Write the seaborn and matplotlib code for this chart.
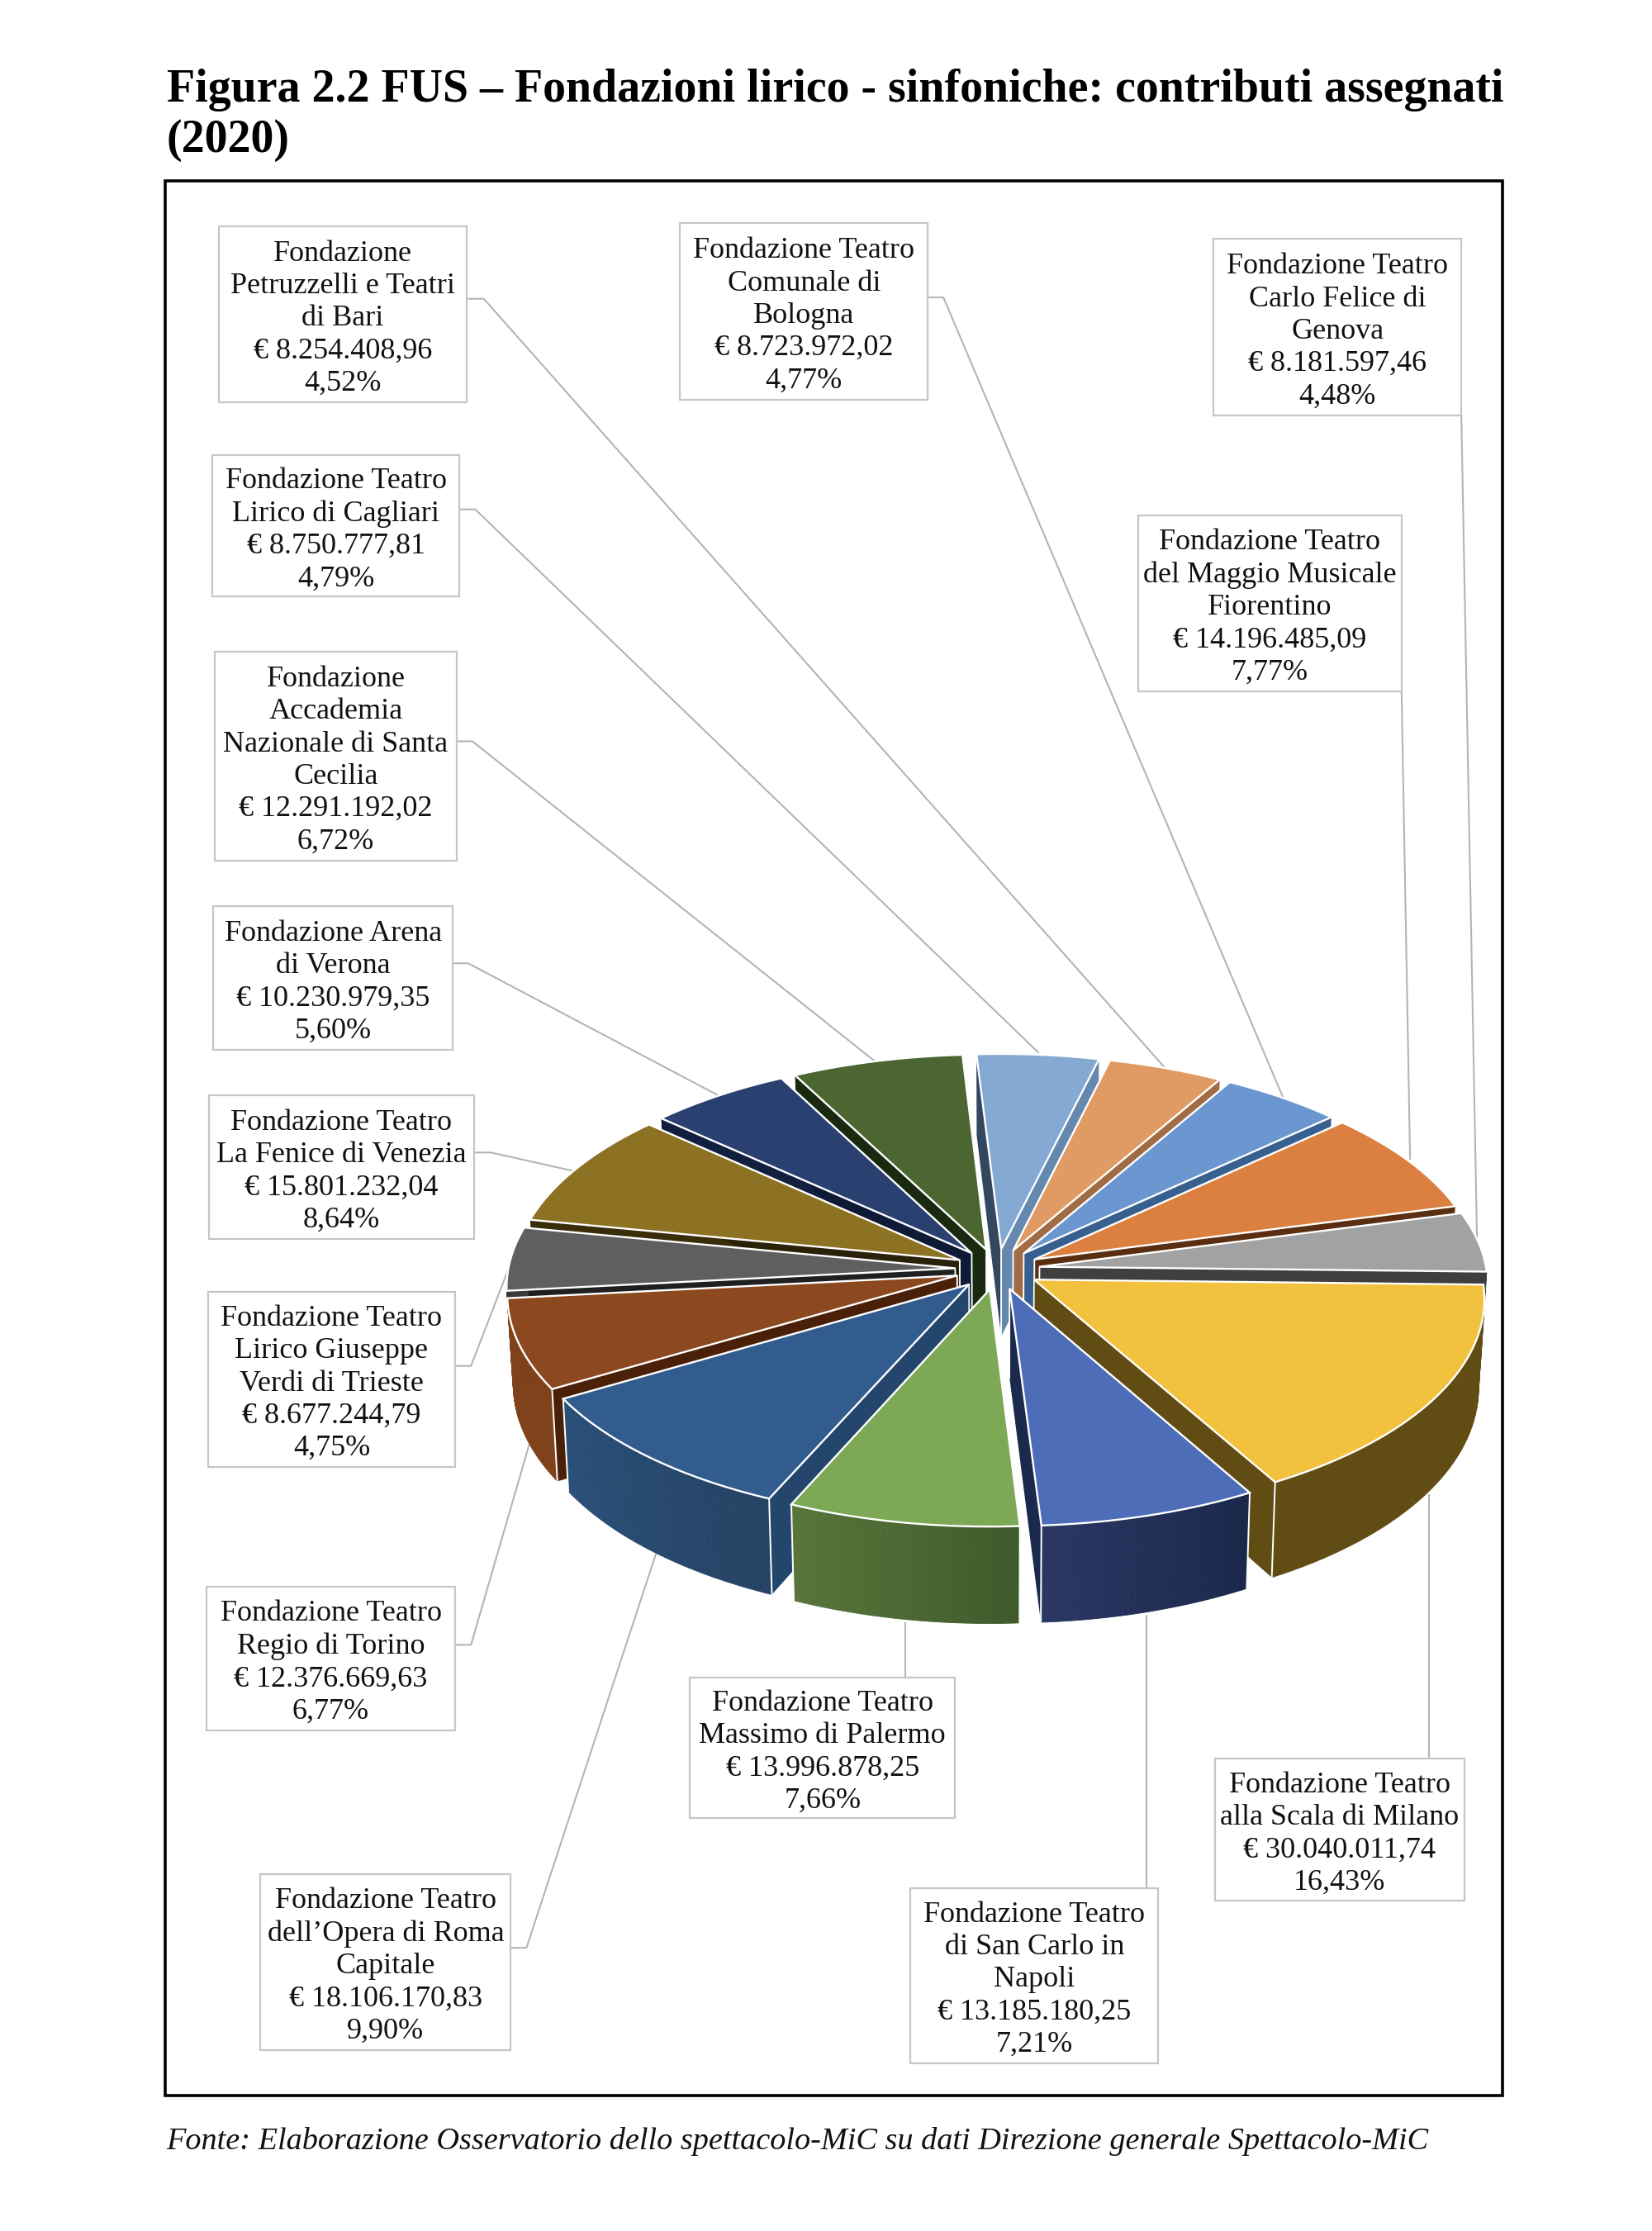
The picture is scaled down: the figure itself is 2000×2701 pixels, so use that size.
import numpy as np
import matplotlib
matplotlib.use("Agg")
import matplotlib.pyplot as plt
from matplotlib.patches import Rectangle
import seaborn as sns

# Data
names = [
    "Fondazione Teatro\nalla Scala di Milano",
    "Fondazione Teatro\ndi San Carlo in\nNapoli",
    "Fondazione Teatro\nMassimo di Palermo",
    "Fondazione Teatro\ndell’Opera di Roma\nCapitale",
    "Fondazione Teatro\nRegio di Torino",
    "Fondazione Teatro\nLirico Giuseppe\nVerdi di Trieste",
    "Fondazione Teatro\nLa Fenice di Venezia",
    "Fondazione Arena\ndi Verona",
    "Fondazione\nAccademia\nNazionale di Santa\nCecilia",
    "Fondazione Teatro\nLirico di Cagliari",
    "Fondazione\nPetruzzelli e Teatri\ndi Bari",
    "Fondazione Teatro\nComunale di\nBologna",
    "Fondazione Teatro\ndel Maggio Musicale\nFiorentino",
    "Fondazione Teatro\nCarlo Felice di\nGenova",
]
amounts = [30040011.74, 13185180.25, 13996878.25, 18106170.83, 12376669.63,
           8677244.79, 15801232.04, 10230979.35, 12291192.02, 8750777.81,
           8254408.96, 8723972.02, 14196485.09, 8181597.46]
amount_labels = ["30.040.011,74", "13.185.180,25", "13.996.878,25", "18.106.170,83",
                 "12.376.669,63", "8.677.244,79", "15.801.232,04", "10.230.979,35",
                 "12.291.192,02", "8.750.777,81", "8.254.408,96", "8.723.972,02",
                 "14.196.485,09", "8.181.597,46"]
pct_labels = ["16,43%", "7,21%", "7,66%", "9,90%", "6,77%", "4,75%", "8,64%",
              "5,60%", "6,72%", "4,79%", "4,52%", "4,77%", "7,77%", "4,48%"]

title = "Figura 2.2 FUS – Fondazioni lirico - sinfoniche: contributi assegnati\n(2020)"
source = "Fonte: Elaborazione Osservatorio dello spettacolo-MiC su dati Direzione generale Spettacolo-MiC"

# Colours: top face, radial walls (start, end), rim wall gradient (start, end)
face_colors = ["#F2C13E", "#4E6DB8", "#7DA855", "#335C8E", "#8C481E", "#5F5F5F", "#8E7223",
               "#2A4070", "#4B6631", "#84A9D3", "#E09A63", "#6A97CF", "#DB8040", "#A2A2A2"]
wall_start = ["#614C14", "#1B2A4C", "#3F5A2B", "#24466C", "#4A2108", "#3A3A3A", "#3A2E0A",
              "#12203F", "#1A2A10", "#33475E", "#A06B45", "#38608F", "#5A2E10", "#3F3F3F"]
wall_end = ["#614C14", "#1B2A4C", "#3F5A2B", "#24466C", "#4A2108", "#1F1F1F", "#2A2208",
            "#0E1A36", "#1A2A10", "#6488AE", "#A06B45", "#38608F", "#5A2E10", "#3F3F3F"]
rim_start = ["#614C14", "#1A294A", "#3F5A2B", "#254364", "#7F421A", "#3A3A3A", "#3A2E0A",
             "#12203F", "#1A2A10", "#33475E", "#A06B45", "#38608F", "#5A2E10", "#3F3F3F"]
rim_end = ["#614C14", "#2A3764", "#58763A", "#2B5079", "#7F421A", "#3A3A3A", "#3A2E0A",
           "#12203F", "#1A2A10", "#33475E", "#A06B45", "#38608F", "#5A2E10", "#3F3F3F"]

# Layout in page units
boxes = [(854, 1236, 1029, 1336), (640, 1327, 814, 1450), (485, 1179, 671, 1278),
         (183, 1317, 359, 1441), (145, 1115, 320, 1216), (146, 908, 320, 1031),
         (147, 770, 333, 871), (150, 637, 318, 738), (151, 458, 321, 605),
         (149, 320, 323, 419), (154, 159, 328, 283), (478, 157, 652, 281),
         (800, 362, 985, 486), (853, 168, 1027, 292)]
leaders = [[(1004, 1236), (1004, 1050)], [(806, 1327), (806, 1135)], [(636, 1179), (636, 1140)],
           [(359, 1369), (370, 1369), (461, 1092)], [(320, 1156), (331, 1156), (372, 1015)],
           [(320, 960), (331, 960), (360, 885)], [(333, 810), (345, 810), (403, 823)],
           [(318, 677), (329, 677), (505, 770)], [(321, 521), (332, 521), (615, 746)],
           [(323, 358), (334, 358), (730, 740)], [(328, 210), (340, 210), (820, 752)],
           [(652, 209), (663, 209), (902, 772)], [(985, 486), (991, 815)],
           [(1027, 292), (1038, 870)]]

cx, cy = 701, 892
rx, ry = 314, 150.6
persp = 0.082
depth = 62
explode = 0.095
start_angle = np.deg2rad(1.3)

sns.set_theme(style="white")
plt.rcParams["font.family"] = ["Liberation Serif", "DejaVu Serif"]

fig = plt.figure(figsize=(20, 27.01), dpi=100)
ax = fig.add_axes([0, 0, 1, 1])
ax.set_xlim(0, 1161)
ax.set_ylim(1568, 0)
ax.axis("off")


def project(u, v, z=0.0):
    k = 1 / (1 - persp * v)
    return cx + rx * u * k * (1 - 0.012 * z), cy + ry * v * k + depth * z * k


# Frame and leader lines go under the pie
ax.add_patch(Rectangle((116, 127), 940, 1346, fill=False, ec="black", lw=2.6, zorder=1))
for pts in leaders:
    xs, ys = zip(*pts)
    ax.plot(xs, ys, color="#B4B4B4", lw=1.5, zorder=2, solid_capstyle="butt")

# Slice angles from the amounts, clockwise from 3 o'clock
shares = np.array(amounts) / np.sum(amounts)
edges = start_angle + np.concatenate([[0], np.cumsum(shares)]) * 2 * np.pi
faces = sns.color_palette(face_colors)
mids = (edges[:-1] + edges[1:]) / 2

# back slices first
for n, i in enumerate(np.argsort(np.sin(mids))):
    t0, t1, tm = edges[i], edges[i + 1], mids[i]
    ou, ov = explode * np.cos(tm), explode * np.sin(tm)
    zo = 10 + n
    ts = np.linspace(t0, t1, 40)
    us, vs = ou + np.cos(ts), ov + np.sin(ts)

    # radial walls, no outline along their bottom
    for t, c in ((t0, wall_start[i]), (t1, wall_end[i])):
        ru, rv = ou + np.cos(t), ov + np.sin(t)
        quad = [project(ou, ov), project(ru, rv), project(ru, rv, 1), project(ou, ov, 1)]
        ax.fill(*zip(*quad), facecolor=c, edgecolor="none", zorder=zo)
        ax.plot(*zip(project(ou, ov), project(ou, ov, 1)), color="white", lw=1.2, zorder=zo)

    # rim wall where it faces the viewer, with the gradient seen on the front slices
    shades = sns.blend_palette([rim_start[i], rim_end[i]], len(ts) - 1)
    for j in range(len(ts) - 1):
        if np.sin((ts[j] + ts[j + 1]) / 2) <= 0:
            continue
        quad = [project(us[j], vs[j]), project(us[j + 1], vs[j + 1]),
                project(us[j + 1], vs[j + 1], 1), project(us[j], vs[j], 1)]
        ax.fill(*zip(*quad), facecolor=shades[j], edgecolor=shades[j], lw=0.6, zorder=zo)
    for j in (0, len(ts) - 1):
        if np.sin(ts[j]) > 0.3:
            ax.plot(*zip(project(us[j], vs[j]), project(us[j], vs[j], 1)), color="white", lw=1.4, zorder=zo)

    # top face
    top = [project(ou, ov)] + [project(a, b) for a, b in zip(us, vs)]
    ax.fill(*zip(*top), facecolor=faces[i], edgecolor="white", lw=1.7, joinstyle="miter", zorder=zo)

# Label boxes
for name, amt, pct, (x0, y0, x1, y1) in zip(names, amount_labels, pct_labels, boxes):
    ax.add_patch(Rectangle((x0, y0), x1 - x0, y1 - y0, fc="white", ec="#C6C6C6", lw=1.6, zorder=40))
    ax.text((x0 + x1) / 2, (y0 + y1) / 2 + 3, f"{name}\n€ {amt}\n{pct}", ha="center", va="center",
            fontsize=26, color="#111111", linespacing=1.25, zorder=41)

ax.text(117, 81, title, ha="left", va="center", fontsize=40.2, fontweight="bold", color="black", linespacing=1.24)
ax.text(117, 1505, source, ha="left", va="center", fontsize=27.5, fontstyle="italic", color="#111111")

fig.savefig("out.png", dpi=100, facecolor="white")
